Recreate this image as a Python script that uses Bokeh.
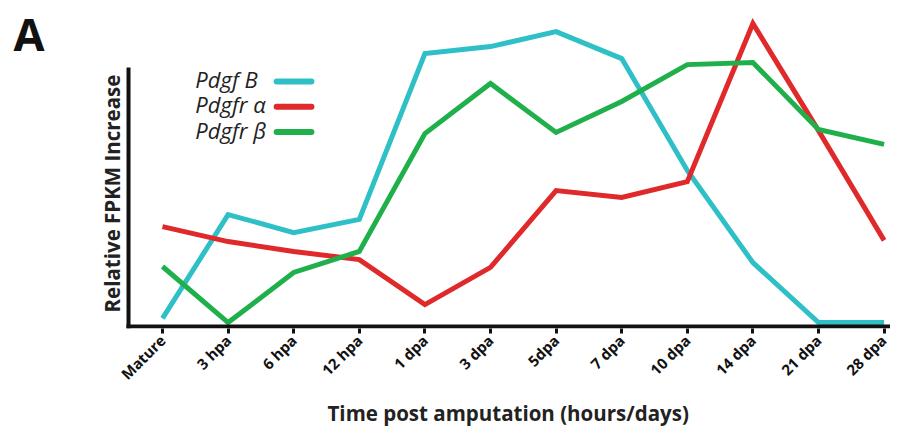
import math
from bokeh.plotting import figure
from bokeh.models import Label, FixedTicker, Title
from bokeh.core.properties import value
from bokeh.embed import file_html
from bokeh.resources import INLINE

timepoints = ["Mature", "3 hpa", "6 hpa", "12 hpa", "1 dpa", "3 dpa", "5dpa",
              "7 dpa", "10 dpa", "14 dpa", "21 dpa", "28 dpa"]
pdgf_b = [2.7, 37.3, 31.3, 35.7, 91.0, 93.3, 98.3, 89.3, 52.0, 21.3, 1.3, 1.3]
pdgfr_a = [33.3, 28.3, 25.0, 22.3, 7.3, 19.7, 45.3, 43.0, 48.3, 101.0, 65.3, 28.7]
pdgfr_b = [20.0, 1.3, 18.0, 25.0, 64.3, 81.0, 64.7, 75.0, 87.3, 88.0, 65.7, 60.7]

series_names = ["Pdgf B", "Pdgfr \u03b1", "Pdgfr \u03b2"]
series_colors = ["#2EBFC7", "#E0292A", "#20B04B"]
series_values = [pdgf_b, pdgfr_a, pdgfr_b]

FONT = "Open Sans"
xs = list(range(len(timepoints)))

p = figure(frame_width=890, frame_height=328, output_backend="svg",
           toolbar_location=None,
           x_range=(-2.4695, 11.0976), y_range=(-0.67, 108.67),
           min_border_left=0, min_border_right=0, min_border_top=0,
           min_border_bottom=0)
p.outline_line_color = None
p.grid.visible = False
p.background_fill_color = "white"
p.border_fill_color = "white"

for vals, col in zip(series_values, series_colors):
    p.line(xs, vals, line_color=col, line_width=5, line_join="miter")

# axis lines (y axis only partial height)
p.segment(x0=[-0.518], y0=[-0.67], x1=[-0.518], y1=[86.3], line_color="#111111", line_width=4)
p.segment(x0=[-0.55], y0=[0], x1=[11.0976], y1=[0], line_color="#111111", line_width=4)

p.yaxis.visible = False
xa = p.xaxis[0]
xa.ticker = FixedTicker(ticks=xs)
xa.major_label_overrides = {i: t for i, t in enumerate(timepoints)}
xa.major_label_orientation = math.pi / 4
xa.major_label_text_font = FONT
xa.major_label_text_font_style = "bold"
xa.major_label_text_font_size = "15px"
xa.major_label_text_color = "#111111"
xa.major_label_standoff = 4
xa.axis_line_color = None
xa.major_tick_in = 0
xa.major_tick_out = 5
xa.major_tick_line_width = 3
xa.major_tick_line_color = "#111111"
xa.minor_tick_line_color = None

p.add_layout(Title(text="Time post amputation (hours/days)", align="left",
                   offset=327, text_font=FONT, text_font_style="bold",
                   text_font_size="20.5px", text_color="#222222",
                   standoff=6), "below")

p.add_layout(Label(x=111, y=135, x_units="screen", y_units="screen",
                   text="Relative FPKM Increase", angle=math.pi / 2,
                   text_align="center", text_baseline="middle",
                   text_font=FONT, text_font_style="bold",
                   text_font_size="20.5px", text_color="#222222"))

p.add_layout(Label(x=13, y=326, x_units="screen", y_units="screen", text="A",
                   text_font=FONT, text_font_style="bold",
                   text_font_size="45px", text_color="#111111",
                   text_baseline="top"))

# legend: italic names with colour keys to the right
for i, (name, col) in enumerate(zip(series_names, series_colors)):
    yv = 81.67 - i * 8.42
    p.text(x=[0.5], y=[yv + 0.8], text=[name], text_font=value(FONT),
           text_font_style="italic", text_font_size="22px",
           text_color="#222222", text_baseline="middle", text_align="left")
    p.segment(x0=[1.74], y0=[yv], x1=[2.27], y1=[yv], line_color=col,
              line_width=6, line_cap="round")

open("out.html", "w").write(file_html(p, INLINE))
